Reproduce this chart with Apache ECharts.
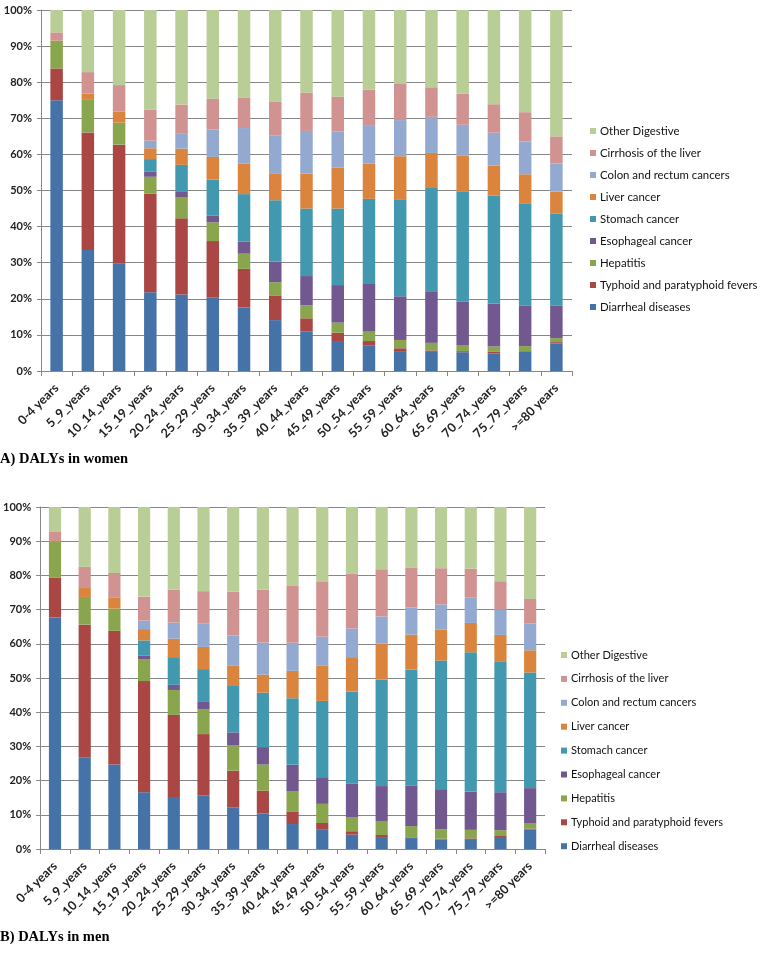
<!DOCTYPE html>
<html>
<head>
<meta charset="utf-8">
<script src="https://cdn.jsdelivr.net/npm/echarts@6/dist/echarts.min.js"></script>
<style>
html,body{margin:0;padding:0;background:#fff;}
#chart{width:780px;height:961px;}
</style>
</head>
<body>
<div id="chart"></div>
<script>
const categories = ['0-4 years','5_9_years','10_14_years','15_19_years','20_24_years','25_29_years','30_34_years','35_39_years','40_44_years','45_49_years','50_54_years','55_59_years','60_64_years','65_69_years','70_74_years','75_79_years','>=80 years'];
const seriesNames = ['Diarrheal diseases','Typhoid and paratyphoid fevers','Hepatitis','Esophageal cancer','Stomach cancer','Liver cancer','Colon and rectum cancers','Cirrhosis of the liver','Other Digestive'];
const yTicks = [0,10,20,30,40,50,60,70,80,90,100];

// A) women (% of DALYs)
const womenDiarrheal = [75.0,33.5,29.7,21.8,21.2,20.3,17.6,14.1,10.9,8.3,7.0,5.3,5.3,5.2,4.9,5.3,7.6];
const womenTyphoid   = [8.8,32.6,33.0,27.4,21.1,15.7,10.7,6.7,3.7,2.3,1.3,1.0,0.4,0.3,0.4,0.2,0.4];
const womenHepatitis = [7.7,9.0,6.1,4.6,5.9,5.2,4.2,3.8,3.6,2.8,2.6,2.3,2.1,1.7,1.5,1.4,1.1];
const womenEsophageal= [0,0,0,1.5,1.6,1.9,3.3,5.7,8.1,10.4,13.2,12.1,14.3,12.1,11.9,11.2,9.0];
const womenStomach   = [0,0,0,3.4,7.3,9.9,13.2,17.0,18.7,21.2,23.6,26.9,28.6,30.3,29.9,28.2,25.5];
const womenLiver     = [0,1.7,3.1,3.0,4.5,6.3,8.5,7.3,9.7,11.3,9.7,11.9,9.7,10.0,8.3,8.2,6.1];
const womenColon     = [0,0,0,2.1,4.1,7.6,9.8,10.7,11.8,10.0,10.5,10.0,10.0,8.6,9.1,9.1,7.8];
const womenCirrhosis = [2.3,6.0,7.3,8.6,8.1,8.6,8.5,9.4,10.6,9.7,10.0,10.0,8.2,8.6,7.9,8.1,7.5];
const womenOther     = [6.2,17.2,20.8,27.6,26.2,24.5,24.2,25.3,22.9,24.0,22.1,20.5,21.4,23.3,26.1,28.3,35.0];

// B) men (% of DALYs)
const menDiarrheal = [67.7,26.8,24.7,16.6,15.2,15.6,12.2,10.4,7.3,5.8,4.2,3.5,3.2,2.8,2.9,3.5,5.7];
const menTyphoid   = [11.7,38.8,39.1,32.5,24.0,18.0,10.7,6.7,3.7,1.8,1.0,0.6,0.2,0.2,0.2,0.3,0.3];
const menHepatitis = [10.5,8.1,6.5,6.3,7.3,7.3,7.5,7.6,5.8,5.6,4.0,4.1,3.3,2.8,2.5,1.7,1.6];
const menEsophageal= [0,0,0,1.1,1.5,2.1,3.7,5.1,7.8,7.8,9.9,10.2,11.9,11.7,11.2,11.1,10.2];
const menStomach   = [0,0,0,4.5,8.1,9.6,13.8,15.9,19.5,22.3,26.9,31.1,33.9,37.6,40.7,38.1,33.8];
const menLiver     = [0,2.6,3.3,3.3,5.4,6.5,5.8,5.3,8.0,10.4,10.1,10.6,10.2,9.0,8.6,7.9,6.5];
const menColon     = [0,0,0,2.5,4.7,6.9,8.7,9.4,8.2,8.4,8.4,7.9,7.9,7.4,7.5,7.5,7.8];
const menCirrhosis = [2.8,6.2,7.1,7.0,9.6,9.4,12.8,15.4,16.6,16.0,16.0,13.8,11.6,10.6,8.4,8.2,7.2];
const menOther     = [7.3,17.5,19.3,26.2,24.2,24.6,24.8,24.2,23.1,21.9,19.5,18.2,17.8,17.9,18.0,21.7,26.9];

const captionA = 'A) DALYs in women';
const captionB = 'B) DALYs in men';

const colors = ['#4572A7','#AA4643','#89A54E','#71588F','#4198AF','#DB843D','#93A9CF','#D19392','#B9CD96'];
const womenData = [womenDiarrheal,womenTyphoid,womenHepatitis,womenEsophageal,womenStomach,womenLiver,womenColon,womenCirrhosis,womenOther];
const menData = [menDiarrheal,menTyphoid,menHepatitis,menEsophageal,menStomach,menLiver,menColon,menCirrhosis,menOther];

const gridCol = '#878787';
const labelFont = 'Lato, "Liberation Sans", sans-serif';

function xAxis(gi){
  return {
    type:'category', gridIndex:gi, data:categories,
    axisLine:{show:true, lineStyle:{color:gridCol, width:1}},
    axisTick:{show:true, length:5, lineStyle:{color:gridCol}},
    axisLabel:{interval:0, rotate:45, margin:15, fontFamily:labelFont, fontWeight:'bold', fontSize:12.5, color:'#222'},
    splitLine:{show:false}
  };
}
function yAxis(gi){
  return {
    type:'value', gridIndex:gi, min:yTicks[0], max:yTicks[yTicks.length-1], interval:10,
    axisLine:{show:true, lineStyle:{color:gridCol, width:1}},
    axisTick:{show:true, length:4, lineStyle:{color:gridCol}},
    axisLabel:{formatter:'{value}%', margin:9, fontFamily:labelFont, fontWeight:'bold', fontSize:11, color:'#222'},
    splitLine:{show:true, lineStyle:{color:gridCol, width:1}}
  };
}

const series = [];
seriesNames.forEach((n,i)=>{
  series.push({name:n, type:'bar', stack:'women', xAxisIndex:0, yAxisIndex:0, barWidth:'40%', data:womenData[i], itemStyle:{color:colors[i]}, emphasis:{disabled:true}});
});
seriesNames.forEach((n,i)=>{
  series.push({name:n, type:'bar', stack:'men', xAxisIndex:1, yAxisIndex:1, barWidth:'41%', data:menData[i], itemStyle:{color:colors[i]}, emphasis:{disabled:true}});
});

const legendOrder = seriesNames.slice().reverse();
function legend(left, top, gap, fs){
  return {
    orient:'vertical', left:left, top:top, data:legendOrder, icon:'rect',
    itemWidth:6, itemHeight:6, itemGap:gap, selectedMode:false, padding:0,
    textStyle:{fontFamily:labelFont, fontSize:fs, color:'#111', lineHeight:14, padding:[0,0,0,-1]}
  };
}

const chart = echarts.init(document.getElementById('chart'), null, {renderer:'canvas'});
chart.setOption({
  animation:false,
  backgroundColor:'#fff',
  grid:[
    {left:41, top:10, width:531, height:361, containLabel:false},
    {left:38, top:507, width:507, height:342, containLabel:false}
  ],
  xAxis:[xAxis(0), xAxis(1)],
  yAxis:[yAxis(0), yAxis(1)],
  legend:[legend(590,124,8,11.4), legend(561,648,9.9,11)],
  series:series,
  graphic:[
    {type:'text', left:0, top:452, style:{text:captionA, font:'bold 14.5px "Liberation Serif", "Times New Roman", serif', fill:'#000'}},
    {type:'text', left:0, top:930, style:{text:captionB, font:'bold 14.5px "Liberation Serif", "Times New Roman", serif', fill:'#000'}}
  ]
});
</script>
</body>
</html>
